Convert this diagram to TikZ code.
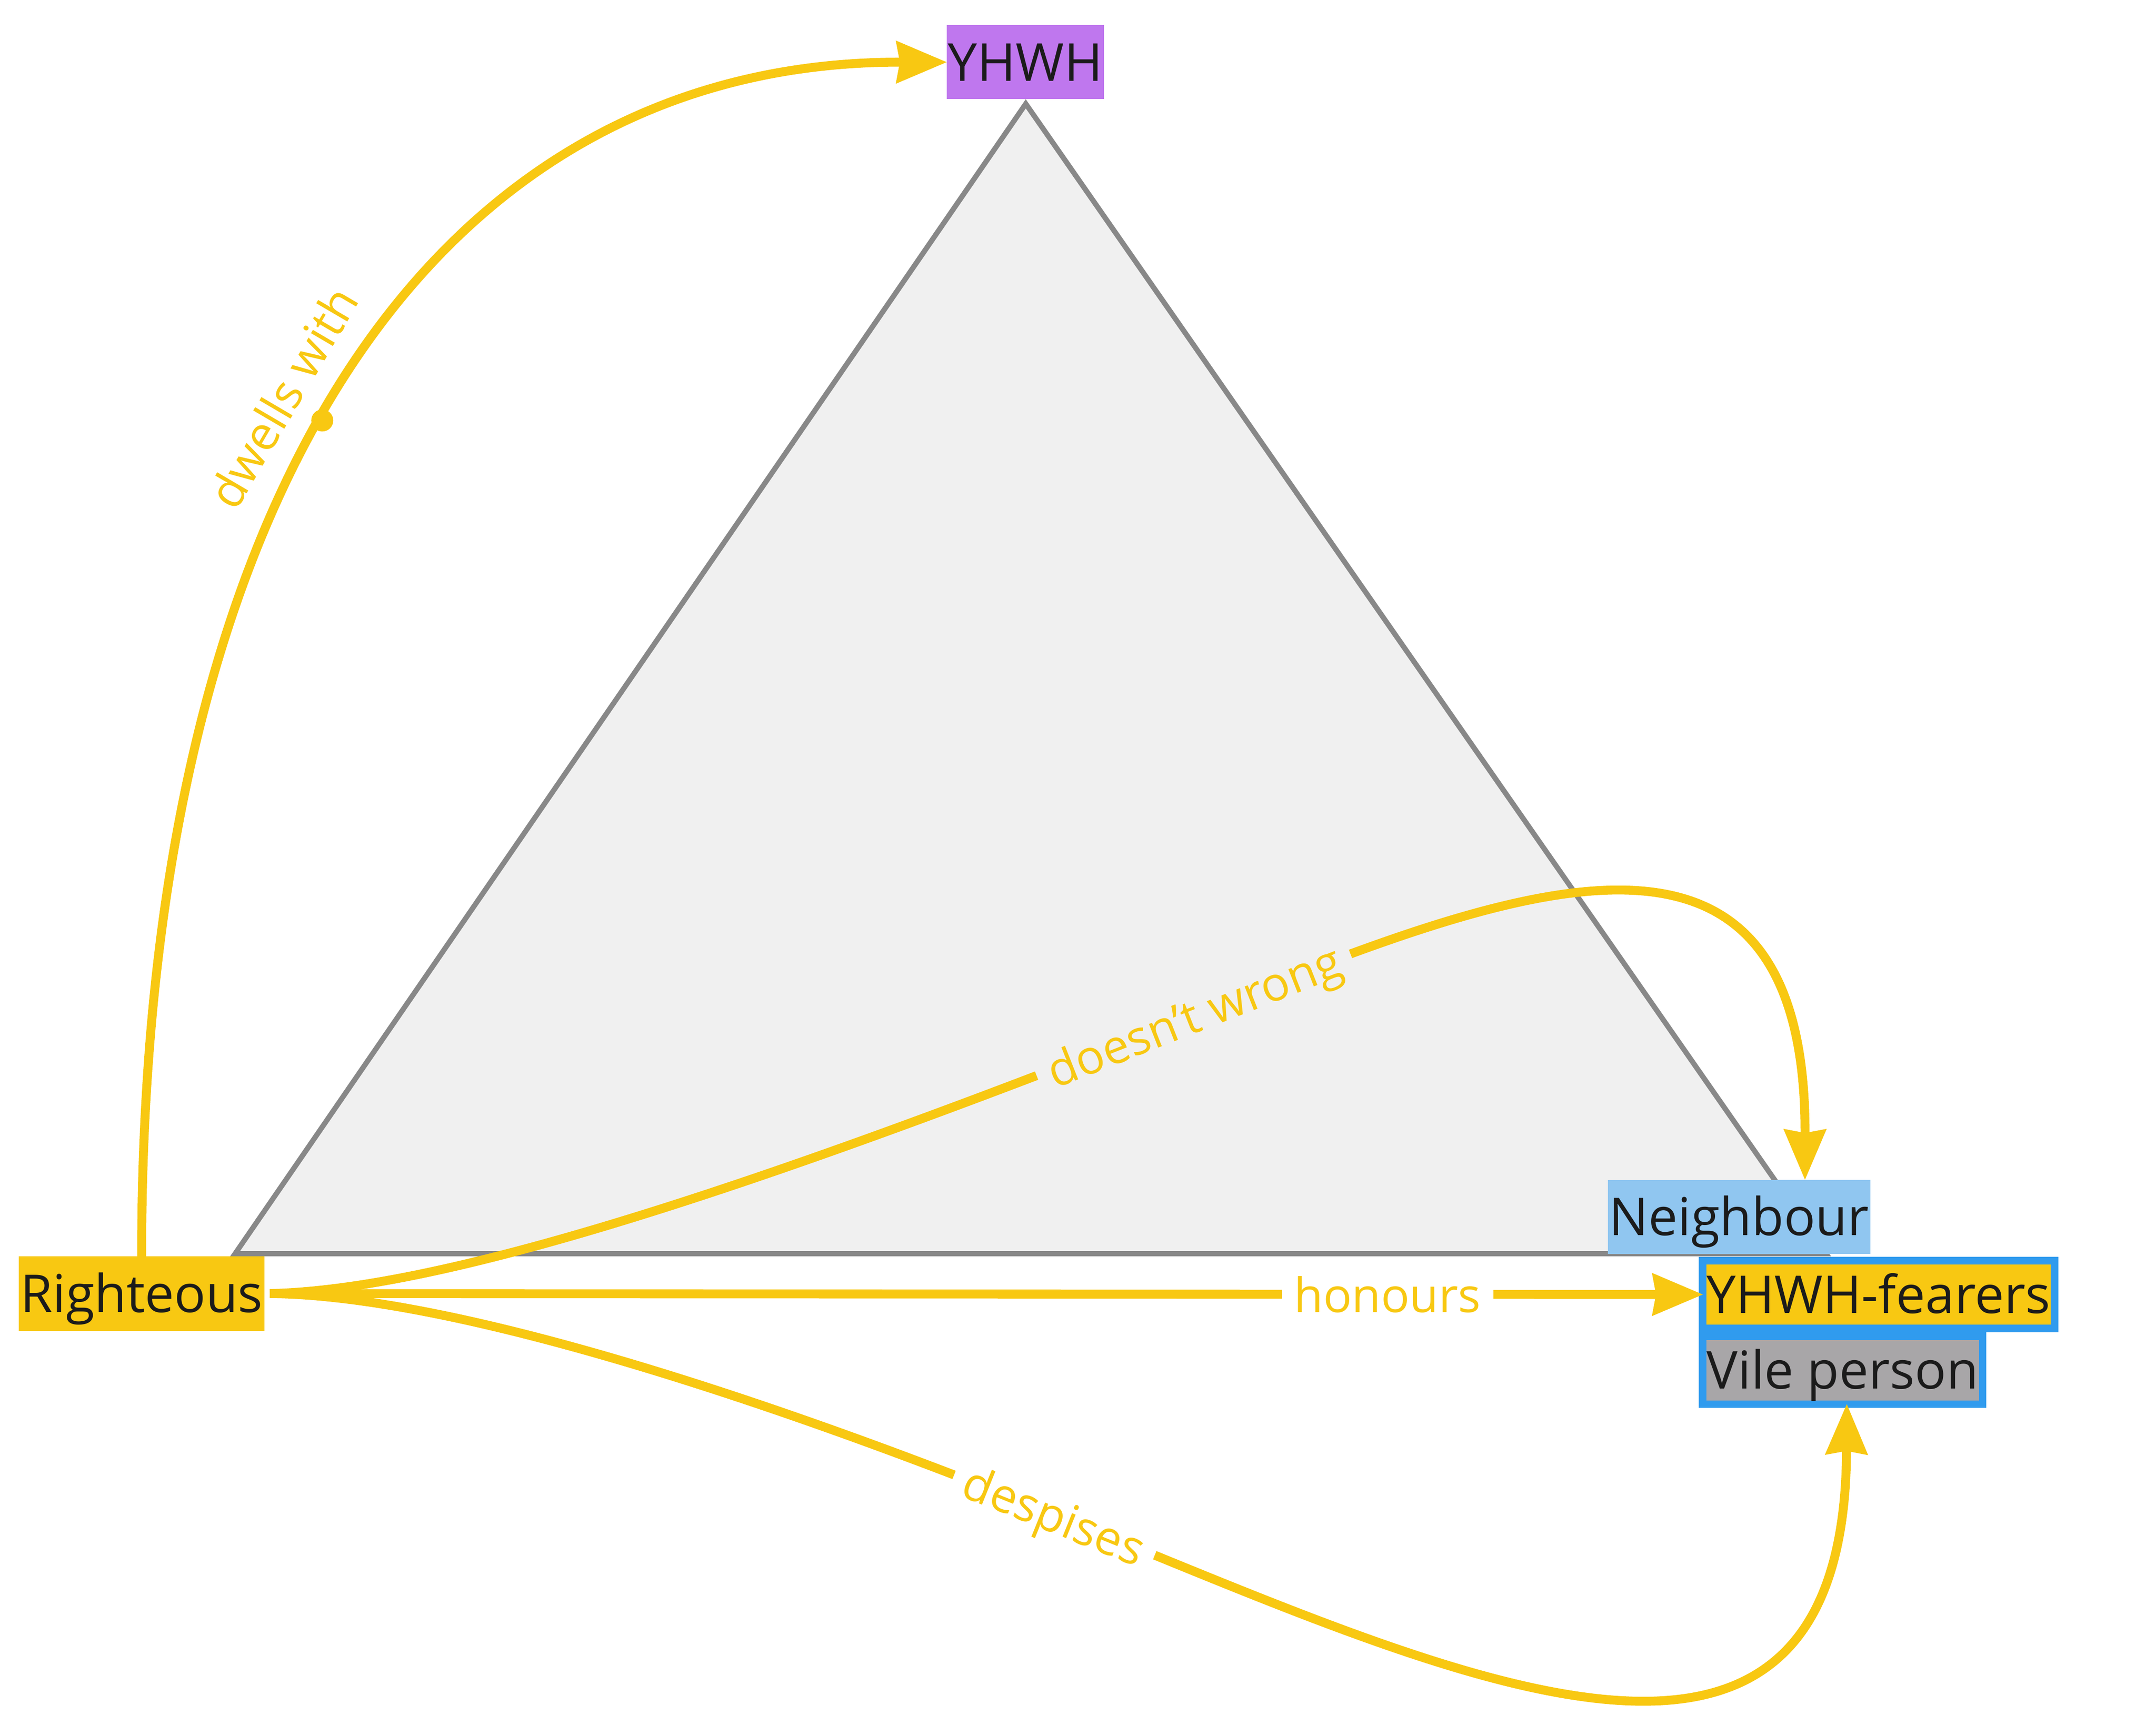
\documentclass[tikz,border=0pt]{standalone}
\usepackage{fontspec}
\setmainfont{Open Sans}
\usetikzlibrary{arrows.meta,positioning}

\definecolor{ylw}{RGB}{248,200,18}
\definecolor{prp}{RGB}{191,119,238}
\definecolor{skyb}{RGB}{144,198,240}
\definecolor{brdb}{RGB}{48,155,238}
\definecolor{vile}{RGB}{168,166,168}
\definecolor{trifill}{RGB}{240,240,240}
\definecolor{trigray}{RGB}{136,136,136}
\definecolor{ink}{RGB}{27,27,27}

\begin{document}
\begin{tikzpicture}[x=1pt,y=-1pt,
  box/.style={rectangle,text=ink,font=\fontsize{38}{46}\selectfont,inner xsep=1pt,inner ysep=0pt,text height=27.1pt,text depth=0pt,minimum height=54pt,outer sep=0pt},
  grp/.style={box,draw=brdb,line width=5.5pt,minimum height=49.5pt,inner xsep=3pt},
  rel/.style={draw=ylw,line width=6.5pt,-{Stealth[length=37pt,width=31.5pt,inset=3pt,line width=0pt]}},
  lbl/.style={text=ylw,font=\fontsize{34.5}{40}\selectfont,inner xsep=9pt,inner ysep=3pt,text height=26.2pt,text depth=0pt,outer sep=0pt},
  dot/.style={circle,fill=ylw,inner sep=0pt,minimum size=16pt,outer sep=0pt}]

\useasboundingbox (0,0) rectangle (1568,1247.3);

\draw[draw=trigray,fill=trifill,line width=3.8pt] (746,75.5) -- (171,911.8) -- (1328,911.8) -- cycle;

\node[box,fill=prp] (Y) at (745.7,45.2) {YHWH};
\node[box,fill=ylw] (R) at (103,940.8) {Righteous};
\node[box,fill=skyb] (N) at (1264.7,885) {Neighbour};
\node[grp,fill=ylw,anchor=west] (F) at (1238.35,941.5) {YHWH-fearers};
\node[grp,fill=vile,below=5.5pt of F.south west,anchor=north west] (V) {Vile person};

\coordinate (Rout) at ([xshift=4pt]R.east);

\draw[rel] (R.north) .. controls (103,353) and (320,45.2) .. node[dot,pos=0.46] (dwdot) {} node[lbl,pos=0.46,sloped,above=17.5pt] (dwlbl) {dwells with} (Y.west);
\draw[rel] (Rout) .. controls (330,938) and (568,856.2) .. (868,738) node[lbl,fill=trifill,rotate=21.5] (dwlbl2) {doesn't wrong} .. controls (1090,650.5) and (1313,555) .. ([xshift=48pt]N.north);
\draw[rel] (Rout) -- node[lbl,fill=white,pos=0.78] (hnlbl) {honours} (F.west);
\draw[rel] (Rout) .. controls (330,942) and (560,1018) .. (767,1101.5) node[lbl,fill=white,rotate=-22] (dslbl) {despises} .. controls (1050,1215) and (1341,1360) .. ([xshift=3pt]V.south);
\end{tikzpicture}
\end{document}
